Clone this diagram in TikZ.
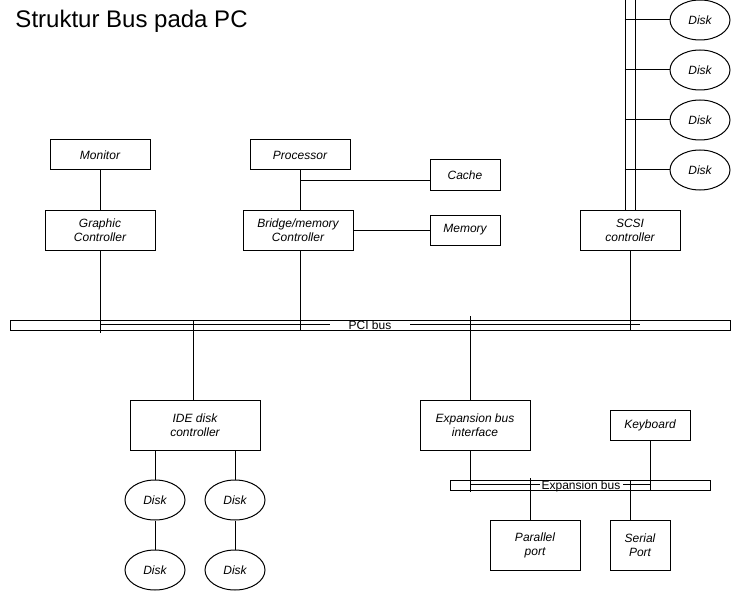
\documentclass[tikz,border=0pt]{standalone}
\usepackage{fontspec}
\setmainfont{Liberation Sans}
\usetikzlibrary{shapes.geometric}
\newcommand{\bxfont}{\fontsize{12}{14}\selectfont\itshape}
\begin{document}
\begin{tikzpicture}[x=1pt,y=-1pt, line width=1pt,
 box/.style={draw, rectangle, inner sep=0pt, align=center, font=\bxfont},
 disk/.style={draw, ellipse, minimum width=60pt, minimum height=40pt, inner sep=0pt, font=\bxfont},
 bus/.style={draw, rectangle, inner sep=0pt},
 lbl/.style={font=\fontsize{12}{14}\selectfont, inner sep=0pt, anchor=base}]
\useasboundingbox (0,0) rectangle (731,591);
\node[anchor=base west, font=\fontsize{24}{28}\selectfont, inner sep=0pt] (title) at (15,28) {Struktur Bus pada PC};

\node[box, minimum width=100pt, minimum height=30pt] (monitor) at (100,155) {Monitor};
\node[box, minimum width=110pt, minimum height=40pt] (graphic) at (100,230) {Graphic\\Controller};
\node[box, minimum width=100pt, minimum height=30pt] (proc) at (300,155) {Processor};
\node[box, minimum width=70pt, minimum height=30pt] (cache) at (465,175) {Cache};
\node[box, minimum width=110pt, minimum height=40pt] (bridge) at (298,230) {Bridge/memory\\Controller};
\node[box, minimum width=70pt, minimum height=30pt] (memory) at (465,230) {Memory};
\node[box, minimum width=100pt, minimum height=40pt] (scsi) at (630,230) {SCSI\\controller};
\node[bus, minimum width=10pt, minimum height=214pt] (scsibar) at (630,103) {};
\node[disk] (d1) at (700,20) {Disk};
\node[disk] (d2) at (700,70) {Disk};
\node[disk] (d3) at (700,120) {Disk};
\node[disk] (d4) at (700,170) {Disk};
\node[bus, minimum width=720pt, minimum height=10pt] (pci) at (370,325) {};
\node[box, minimum width=130pt, minimum height=50pt] (ide) at (195,425) {IDE disk\\controller};
\node[disk] (d5) at (155,500) {Disk};
\node[disk] (d6) at (235,500) {Disk};
\node[disk] (d7) at (155,570) {Disk};
\node[disk] (d8) at (235,570) {Disk};
\node[box, minimum width=110pt, minimum height=50pt] (expif) at (475,425) {Expansion bus\\interface};
\node[box, minimum width=80pt, minimum height=30pt] (kbd) at (650,425) {Keyboard};
\node[bus, minimum width=260pt, minimum height=10pt] (expbus) at (580,485) {};
\node[box, minimum width=90pt, minimum height=50pt] (par) at (535,545) {Parallel\\port};
\node[box, minimum width=60pt, minimum height=50pt] (ser) at (640,545) {Serial\\Port};

% upper connectors
\draw (monitor) -- (graphic);
\coordinate (pbx) at (300,170);
\draw (pbx) -- (pbx |- bridge.north);
\coordinate (cj) at (300,180);
\draw (cj) -- (cj -| cache.west);
\draw (bridge.east) -- (memory.west);
\foreach \i in {1,2,3,4} {\draw (scsibar.west |- d\i) -- (d\i.west);}

% PCI bus connectors
\coordinate (gcend) at (100,333);
\draw (graphic.south) -- (gcend);
\coordinate (brbot) at (300,250);
\draw (brbot) -- (brbot |- pci.south);
\draw (scsi.south) -- (scsi.south |- pci.south);
\coordinate (idetop) at (193,320);
\draw (idetop) -- (idetop |- ide.north);
\coordinate (exptop) at (470,316);
\draw (exptop) -- (exptop |- expif.north);
\node[lbl] (pcilbl) at (370,329) {PCI bus};
\coordinate (ph1) at (100,324);
\coordinate (ph2) at (330,324);
\coordinate (ph3) at (410,324);
\coordinate (ph4) at (640,324);
\draw (ph1) -- (ph2) (ph3) -- (ph4);

% IDE disks
\draw (d5.north |- ide.south) -- (d5.north);
\draw (d6.north |- ide.south) -- (d6.north);
\draw (d5.south) -- (d7.north);
\draw (d6.south) -- (d8.north);

% expansion bus
\coordinate (ebx) at (470,492);
\draw (expif.south -| ebx) -- (ebx);
\coordinate (eh1) at (470,484);
\coordinate (eh2) at (540,484);
\coordinate (eh3) at (623,484);
\coordinate (eh4) at (650,484);
\draw (eh1) -- (eh2) (eh3) -- (eh4);
\node[lbl] (explbl) at (581,489) {Expansion bus};
\draw (kbd.south) -- (kbd.south |- expbus.south);
\coordinate (pt) at (530,478);
\draw (pt) -- (pt |- par.north);
\coordinate (st) at (630,480);
\draw (st) -- (st |- ser.north);
\end{tikzpicture}
\end{document}
